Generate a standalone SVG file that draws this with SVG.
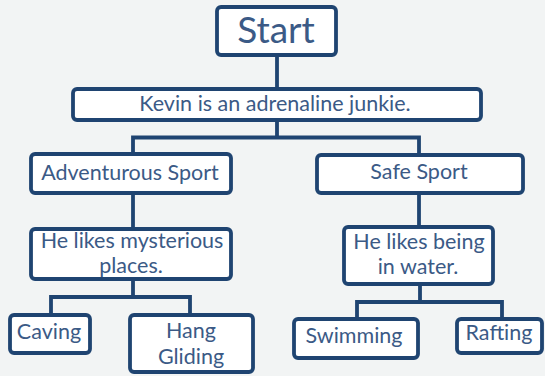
<svg xmlns="http://www.w3.org/2000/svg" width="545" height="376" viewBox="0 0 545 376">
<style>
.box{fill:#ffffff;stroke:#1f4471;stroke-width:3.8}
.con{fill:none;stroke:#1f4471;stroke-width:3.8;stroke-linejoin:miter}
text{font-family:Lato,"Liberation Sans",sans-serif;fill:#3b5a86;text-anchor:middle}
.t{font-size:21.5px}
</style>
<rect x="0" y="0" width="545" height="376" fill="#f2f4f4"/>
<g id="connectors">
<path class="con" d="M277 55V89"/>
<path class="con" d="M277 120V137.5H133V155M277 137.5H419V155"/>
<path class="con" d="M133 193V229"/>
<path class="con" d="M419 193V227"/>
<path class="con" d="M133 279V297H51V315M133 297H190V315"/>
<path class="con" d="M420 284V302H357V319M420 302H502V319"/>
</g>
<g id="start"><rect class="box" x="217" y="7" width="119" height="48" rx="4"/><text x="276" y="43" style="font-size:37px">Start</text></g>
<g id="kevin"><rect class="box" x="73" y="89" width="408" height="31" rx="4"/><text class="t" x="275" y="111">Kevin is an adrenaline junkie.</text></g>
<g id="adventurous"><rect class="box" x="31" y="154" width="200" height="39" rx="4"/><text class="t" x="130" y="180">Adventurous Sport</text></g>
<g id="safe"><rect class="box" x="317" y="155" width="206" height="38" rx="4"/><text class="t" x="419" y="179">Safe Sport</text></g>
<g id="mysterious"><rect class="box" x="31" y="229" width="200" height="50" rx="4"/><text class="t" x="132" y="248">He likes mysterious</text><text class="t" x="131" y="273">places.</text></g>
<g id="water"><rect class="box" x="344" y="227" width="149" height="57" rx="4"/><text class="t" x="419" y="249">He likes being</text><text class="t" x="418" y="274">in water.</text></g>
<g id="caving"><rect class="box" x="10" y="315" width="80" height="38" rx="4"/><text class="t" x="49" y="339">Caving</text></g>
<g id="hang"><rect class="box" x="130" y="315" width="123" height="57" rx="4"/><text class="t" x="191" y="338">Hang</text><text class="t" x="191" y="364">Gliding</text></g>
<g id="swimming"><rect class="box" x="294" y="319" width="124" height="39" rx="4"/><text class="t" x="354" y="343">Swimming</text></g>
<g id="rafting"><rect class="box" x="457" y="319" width="85" height="34" rx="4"/><text class="t" x="499" y="340">Rafting</text></g>
</svg>
